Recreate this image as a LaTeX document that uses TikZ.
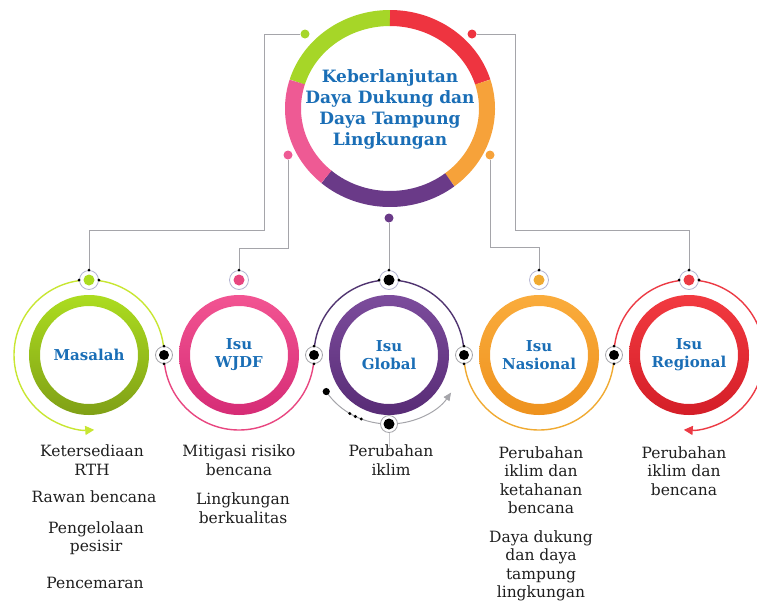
\documentclass[tikz,border=0pt]{standalone}
\usepackage{fontspec}
\setmainfont{DejaVu Serif}
\usetikzlibrary{arrows.meta}
\definecolor{bgreen}{RGB}{166,214,40}
\definecolor{bred}{RGB}{238,52,64}
\definecolor{borange}{RGB}{246,162,58}
\definecolor{bpurple}{RGB}{106,58,136}
\definecolor{bpink}{RGB}{238,90,148}
\definecolor{gtop}{RGB}{172,220,32}
\definecolor{gbot}{RGB}{128,160,22}
\definecolor{ptop}{RGB}{242,84,146}
\definecolor{pbot}{RGB}{214,44,118}
\definecolor{utop}{RGB}{124,76,156}
\definecolor{ubot}{RGB}{88,44,118}
\definecolor{otop}{RGB}{250,172,60}
\definecolor{obot}{RGB}{238,146,30}
\definecolor{rtop}{RGB}{242,58,64}
\definecolor{rbot}{RGB}{212,30,40}
\definecolor{agreen}{RGB}{200,230,50}
\definecolor{apink}{RGB}{232,70,128}
\definecolor{apurple}{RGB}{80,52,112}
\definecolor{aorange}{RGB}{240,170,50}
\definecolor{ared}{RGB}{236,58,68}
\definecolor{labblue}{RGB}{26,110,182}
\definecolor{conncol}{RGB}{165,165,170}
\definecolor{halocol}{RGB}{180,180,210}
\definecolor{txtcol}{RGB}{30,30,30}
\tikzset{
  conn/.style={draw=conncol, line width=0.9},
  bigseg/.style={line width=16},
  thinarc/.style={line width=1.4},
  halo/.style={circle, draw=halocol, fill=white, minimum size=19, inner sep=0, line width=0.8},
  jhalo/.style={circle, draw=conncol, fill=white, minimum size=17, inner sep=0, line width=0.8},
  bdot/.style={circle, inner sep=0, minimum size=9},
  lab/.style={text=labblue, align=center, font=\bfseries\fontsize{15}{18}\selectfont},
  title/.style={text=labblue, align=center, font=\bfseries\fontsize{17}{21}\selectfont},
  body/.style={text=txtcol, align=center, font=\fontsize{15.5}{18.5}\selectfont},
  tip/.style={-{Triangle[length=9,width=9]}}
}
\begin{document}
\begin{tikzpicture}[x=1pt,y=-1pt]
\useasboundingbox (0,0) rectangle (757,603);
% big ring
\coordinate (bc) at (390,108.5);
\draw[bigseg, bgreen] (bc) ++(-90:97 and 90.5) arc[start angle=-90, end angle=-163, x radius=97, y radius=90.5];
\draw[bigseg, bred] (bc) ++(-17:97 and 90.5) arc[start angle=-17, end angle=-90, x radius=97, y radius=90.5];
\draw[bigseg, borange] (bc) ++(52:97 and 90.5) arc[start angle=52, end angle=-17, x radius=97, y radius=90.5];
\draw[bigseg, bpurple] (bc) ++(131:97 and 90.5) arc[start angle=131, end angle=52, x radius=97, y radius=90.5];
\draw[bigseg, bpink] (bc) ++(197:97 and 90.5) arc[start angle=197, end angle=131, x radius=97, y radius=90.5];
\node[title] (title) at (390,109) {Keberlanjutan\\Daya Dukung dan\\Daya Tampung\\Lingkungan};
% dots on big ring
\node[bdot, fill=bgreen] (dg) at (305,34) {};
\node[bdot, fill=bred] (dr) at (472,34) {};
\node[bdot, fill=bpink] (dp) at (288,155) {};
\node[bdot, fill=borange] (do) at (490,155) {};
\node[bdot, fill=bpurple] (du) at (389,218) {};
% small circle centres
\coordinate (c1) at (89,355);
\coordinate (c2) at (239,355);
\coordinate (c3) at (389,355);
\coordinate (c4) at (539,355);
\coordinate (c5) at (689,355);
% rings
\shade[even odd rule, top color=gtop, bottom color=gbot] (c1) circle (60) (c1) circle (49);
\shade[even odd rule, top color=ptop, bottom color=pbot] (c2) circle (60) (c2) circle (49);
\shade[even odd rule, top color=utop, bottom color=ubot] (c3) circle (60) (c3) circle (49);
\shade[even odd rule, top color=otop, bottom color=obot] (c4) circle (60) (c4) circle (49);
\shade[even odd rule, top color=rtop, bottom color=rbot] (c5) circle (60) (c5) circle (49);
% thin arcs
\draw[thinarc, agreen, tip] (164,355) arc[start angle=0, end angle=-274, radius=75];
\draw[thinarc, apink] (164,355) arc[start angle=180, end angle=0, radius=75];
\draw[thinarc, apurple] (314,355) arc[start angle=180, end angle=360, radius=75];
\draw[thinarc, aorange] (464,355) arc[start angle=180, end angle=0, radius=75];
\draw[thinarc, ared, tip] (614,355) arc[start angle=180, end angle=454, radius=75];
% gray arc under Global
\draw[conn, line width=1, -{Triangle[length=8,width=7]}] (c3) ++(148:74 and 69) coordinate (gs) arc[start angle=148, end angle=33, x radius=74, y radius=69];
\fill[black] (gs) circle (3.6);
\foreach \a in {122,117,112} \fill[black] (c3) ++(\a:74 and 69) circle (1.7);
% halos on top
\node[halo] (mtop) at (89,280) {};
\node[halo] (wtop) at (239,280) {};
\node[halo] (gtopn) at (389,280) {};
\node[halo] (ntop) at (539,280) {};
\node[halo] (rtopn) at (689,280) {};
\fill[gtop] (mtop) circle (5.5);
\fill[apink] (wtop) circle (5.5);
\fill[black] (gtopn) circle (5.5);
\fill[aorange] (ntop) circle (5.5);
\fill[ared] (rtopn) circle (5.5);
\foreach \n in {mtop,gtopn,rtopn} {\fill (\n.west) circle (1.6); \fill (\n.east) circle (1.6);}
% junction halos
\node[jhalo] (j1) at (164,355) {};
\node[jhalo] (j2) at (314,355) {};
\node[jhalo] (j3) at (464,355) {};
\node[jhalo] (j4) at (614,355) {};
\foreach \n in {j1,j2,j3,j4} {\fill[black] (\n) circle (5); \fill (\n.north) circle (1.5); \fill (\n.south) circle (1.5);}
% bottom halo of Global
\node[jhalo] (gbot) at (389,424) {};
\fill[black] (gbot) circle (5.5);
\draw[conn, draw=conncol!60] (gbot.south) -- ++(0,14) coordinate (gend);
% connectors
\draw[conn] (dg.west) -| (264,230) -| (mtop.north);
\draw[conn] (dr.east) -| (515,230) -| (rtopn.north);
\draw[conn] (dp.south) |- (239,248) -- (wtop.north);
\draw[conn] (do.south) |- (539,247) -- (ntop.north);
\draw[conn] (du.south) -- (gtopn.north);
\foreach \n in {mtop,wtop,gtopn,ntop,rtopn} \fill (\n.north) circle (1.6);
% labels
\node[lab] (l1) at (c1) {Masalah};
\node[lab] (l2) at (c2) {Isu\\WJDF};
\node[lab] (l3) at (c3) {Isu\\Global};
\node[lab] (l4) at (c4) {Isu\\Nasional};
\node[lab] (l5) at (c5) {Isu\\Regional};
% texts
\node[body] (t11) at (92,460) {Ketersediaan\\RTH};
\node[body] (t12) at (94,497) {Rawan bencana};
\node[body] (t13) at (96,538) {Pengelolaan\\pesisir};
\node[body] (t14) at (95,583) {Pencemaran};
\node[body] (t21) at (239,460) {Mitigasi risiko\\bencana};
\node[body] (t22) at (243,508) {Lingkungan\\berkualitas};
\node[body] (t31) at (391,460) {Perubahan\\iklim};
\node[body] (t41) at (541,480) {Perubahan\\iklim dan\\ketahanan\\bencana};
\node[body] (t42) at (541,566) {Daya dukung\\dan daya\\tampung\\lingkungan};
\node[body] (t51) at (684,471) {Perubahan\\iklim dan\\bencana};
\end{tikzpicture}
\end{document}
